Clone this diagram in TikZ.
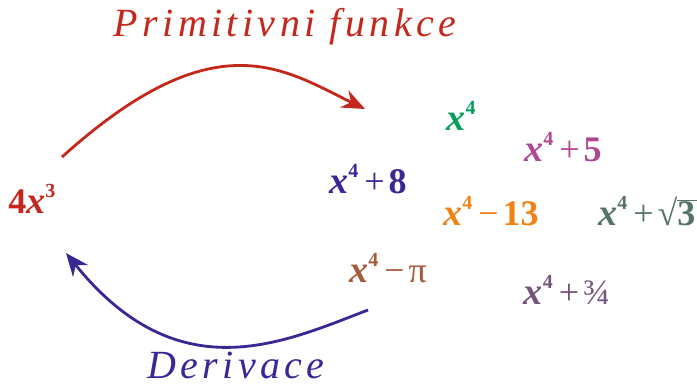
\documentclass[tikz,border=0pt]{standalone}
\usepackage{fontspec}
\setmainfont{Liberation Serif}
\usetikzlibrary{arrows.meta}

\definecolor{primred}{RGB}{196,40,28}
\definecolor{derblue}{RGB}{55,40,150}
\definecolor{fgreen}{RGB}{0,160,90}
\definecolor{fmagenta}{RGB}{175,70,145}
\definecolor{forange}{RGB}{240,130,20}
\definecolor{fslate}{RGB}{85,115,105}
\definecolor{fbrown}{RGB}{165,90,60}
\definecolor{fpurple}{RGB}{115,85,125}

\newcommand{\xpow}[1]{{\fontsize{19}{20}\selectfont\bfseries\itshape x}\raisebox{1.0ex}{\fontsize{10}{10}\selectfont\bfseries #1}}
\newcommand{\xfour}{\xpow{4}}

\tikzset{
  title/.style={font=\fontsize{20}{24}\selectfont\itshape\addfontfeatures{LetterSpace=11}, anchor=base},
  expr/.style={font=\fontsize{18}{20}\selectfont, inner sep=0pt},
  arc/.style={line width=1.4pt, -{Stealth[length=11.5pt,width=9.5pt]}}
}

\begin{document}
\begin{tikzpicture}[x=0.5pt,y=-0.5pt]

    \useasboundingbox (0,0) rectangle (697,385);

    % labels of the two arcs
    \node[title, primred] (prim) at (285,37) {Primitivni funkce};
    \node[title, derblue] (der) at (236,378) {Derivace};

    % the derivative
    \node[expr, primred] (f) at (32,199) {\textbf{4}\xpow{3}};

    % family of antiderivatives
    \node[expr, fgreen] (a1) at (461,116) {\xfour};
    \node[expr, fmagenta] (a2) at (563,147) {\xfour\,+\kern2pt\textbf{5}};
    \node[expr, derblue] (a3) at (368,179) {\xfour\,+\kern2pt\textbf{8}};
    \node[expr, forange] (a4) at (491,211) {\xfour\,−\kern2pt\textbf{13}};
    \node[expr, fslate, anchor=west] (a5) at (598,211) {\xfour\,+\kern2pt√\rlap{\rule[0.68em]{0.7em}{0.5pt}}\textbf{3}};
    \node[expr, fbrown] (a6) at (388,268) {\xfour\,−\kern2ptπ};
    \node[expr, fpurple] (a7) at (567,290) {\xfour\,+\kern2pt¾};

    % arc ends
    \coordinate (rs) at (62,157);
    \coordinate (re) at (365,109);
    \coordinate (bs) at (368,310);
    \coordinate (be) at (66,253);

    % Draw the arcs
    \draw[arc, primred] (rs) .. controls (215,19) and (283,69) .. (re);
    \draw[arc, derblue] (bs) .. controls (282,343) and (178,392) .. (be);

\end{tikzpicture}
\end{document}
